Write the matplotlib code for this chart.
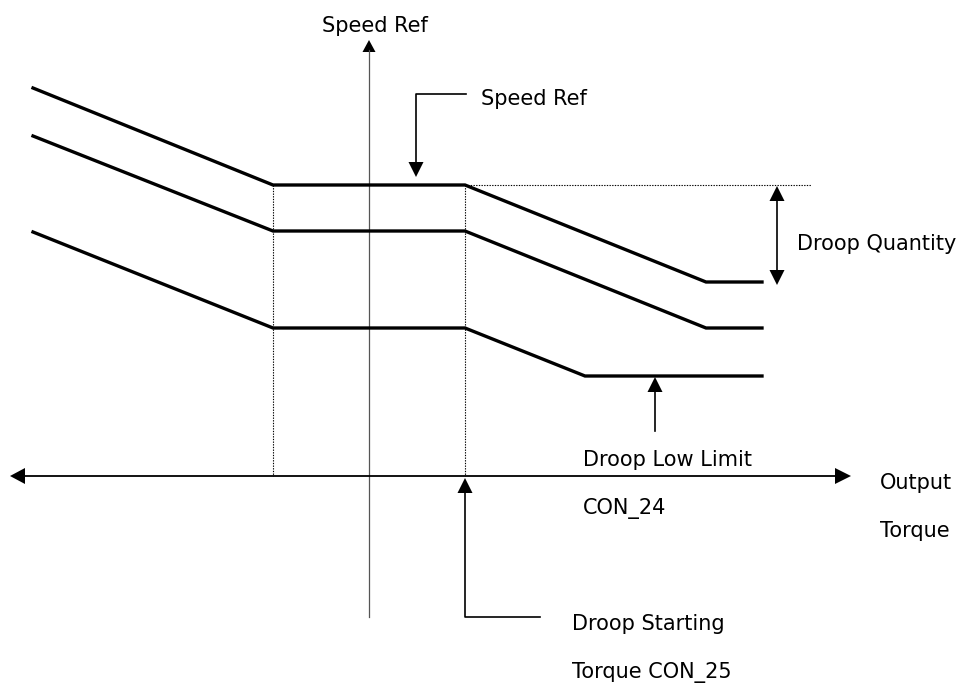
import matplotlib
matplotlib.use("Agg")
import matplotlib.pyplot as plt

# Droop characteristic curves (pixel space of the diagram, y grows downward)
top_x = [33, 273, 465, 706, 762]
top_y = [88, 185, 185, 282, 282]
mid_x = [33, 273, 465, 706, 762]
mid_y = [136, 231, 231, 328, 328]
low_x = [33, 273, 465, 585, 762]
low_y = [232, 328, 328, 376, 376]

# axes
yaxis_x = 369
yaxis_top = 40
yaxis_bottom = 617
xaxis_y = 476
xaxis_left = 10
xaxis_right = 851

# guide lines
guide_x = [273, 465]
ref_level = 185
ref_line_end = 811

# labels: text, x, baseline y, alignment
labels = [
    ("Speed Ref", 375, 32, "center"),
    ("Speed Ref", 481, 105, "left"),
    ("Droop Quantity", 797, 250, "left"),
    ("Droop Low Limit", 583, 466, "left"),
    ("CON_24", 583, 514, "left"),
    ("Output", 880, 489, "left"),
    ("Torque", 880, 537, "left"),
    ("Droop Starting", 572, 630, "left"),
    ("Torque CON_25", 572, 678, "left"),
]


#Draw a filled arrow head with its tip at (x, y) pointing in direction d
def head(ax, x, y, d, length=15, width=15):
    dx, dy = d
    bx, by = x - dx * length, y - dy * length
    px, py = -dy * width / 2, dx * width / 2
    ax.fill([x, bx + px, bx - px], [y, by + py, by - py], color="black", lw=0)


fig = plt.figure(figsize=(9.61, 6.84), dpi=100)
ax = fig.add_axes([0, 0, 1, 1])
ax.set_xlim(0, 961)
ax.set_ylim(684, 0)
ax.axis("off")

# dotted guides
for gx in guide_x:
    ax.plot([gx, gx], [ref_level, xaxis_y], color="black", lw=0.8, ls=(0, (1.2, 1.2)))
ax.plot([guide_x[1], ref_line_end], [ref_level, ref_level], color="black", lw=0.8, ls=(0, (1.2, 1.2)))

# speed axis
ax.plot([yaxis_x, yaxis_x], [yaxis_top + 10, yaxis_bottom], color="#555555", lw=0.9)
head(ax, yaxis_x, yaxis_top, (0, -1), 12, 13)

# torque axis
ax.plot([xaxis_left + 10, xaxis_right - 10], [xaxis_y, xaxis_y], color="black", lw=1.3)
head(ax, xaxis_left, xaxis_y, (-1, 0), 15, 16)
head(ax, xaxis_right, xaxis_y, (1, 0), 16, 16)

# curves
for xs, ys in [(top_x, top_y), (mid_x, mid_y), (low_x, low_y)]:
    ax.plot(xs, ys, color="black", lw=2.4, solid_joinstyle="miter")

# Speed Ref callout
ax.plot([466, 416, 416], [94, 94, 165], color="black", lw=1.2)
head(ax, 416, 177, (0, 1))

# Droop Quantity double arrow
ax.plot([777, 777], [198, 273], color="black", lw=1.2)
head(ax, 777, 186, (0, -1))
head(ax, 777, 285, (0, 1))

# Droop Low Limit arrow
ax.plot([655, 655], [431, 388], color="black", lw=1.2)
head(ax, 655, 377, (0, -1))

# Droop Starting callout
ax.plot([540, 465, 465], [617, 617, 490], color="black", lw=1.2)
head(ax, 465, 478, (0, -1))

for text, x, y, ha in labels:
    ax.text(x, y, text, ha=ha, va="baseline", fontsize=15, family="DejaVu Sans")

fig.savefig("out.png", dpi=100)
